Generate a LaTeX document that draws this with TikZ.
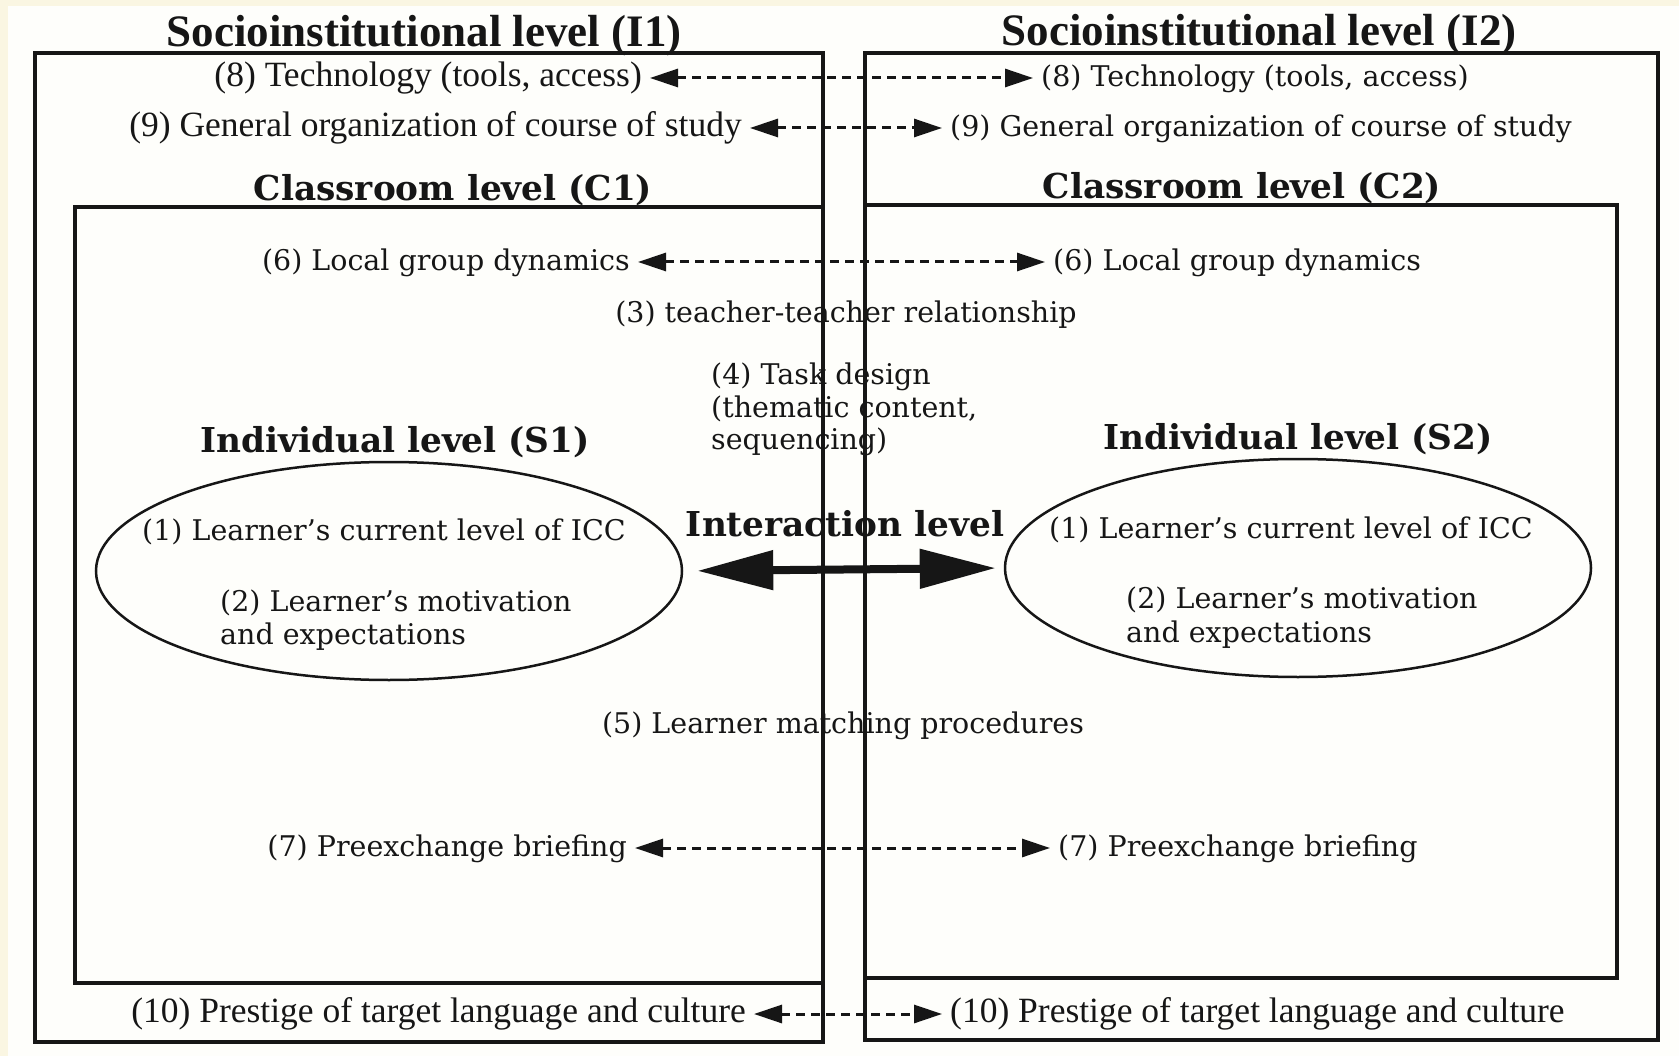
\documentclass[tikz,border=0pt]{standalone}
\usepackage{fontspec}
\setmainfont{DejaVu Serif}
\newfontfamily\timesf{Liberation Serif}
\usetikzlibrary{shapes.geometric,arrows.meta}
\definecolor{ink}{RGB}{22,22,22}
\definecolor{cream}{RGB}{250,246,226}
\definecolor{paper}{RGB}{254,254,251}
\begin{document}
\begin{tikzpicture}[x=1pt,y=-1pt,
  txt/.style={inner sep=0pt, text=ink, font=\fontsize{28.5}{33}\selectfont},
  ttxt/.style={inner sep=0pt, text=ink, font=\timesf\fontsize{35.5}{40}\selectfont},
  soc/.style={inner sep=0pt, text=ink, font=\timesf\bfseries\fontsize{45}{50}\selectfont},
  head/.style={inner sep=0pt, text=ink, font=\bfseries\fontsize{34.3}{38}\selectfont},
  levelbox/.style={draw=ink, line width=3.5pt},
  dasharrow/.style={draw=ink, line width=3pt, dash pattern=on 9pt off 6pt,
    {Triangle[length=28pt,width=18pt]}-{Triangle[length=28pt,width=18pt]},
    shorten <=8pt, shorten >=8pt},
  bigarrow/.style={draw=ink, line width=8pt,
    {Triangle[length=76pt,width=38pt]}-{Triangle[length=76pt,width=38pt]}},
  indiv/.style={draw=ink, line width=2.5pt, ellipse, minimum width=586pt,
    minimum height=218pt, inner sep=0pt}
]
\fill[cream] (0,0) rectangle (1679,1056);
\fill[paper] (8,6) rectangle (1679,1056);
\useasboundingbox (0,0) rectangle (1679,1056);

% headings
\node[soc] (i1) at (424,36) {Socioinstitutional level (I1)};
\node[soc] (i2) at (1259,35) {Socioinstitutional level (I2)};
\node[head] (c1) at (453,190) {Classroom level (C1)};
\node[head] (c2) at (1242,188) {Classroom level (C2)};
\node[head] (s1) at (395,442) {Individual level (S1)};
\node[head] (s2) at (1298,439) {Individual level (S2)};
\node[head] (int) at (845,524) {Interaction level};

% socioinstitutional factors
\node[ttxt, anchor=mid east] (l8) at (642,84) {(8) Technology (tools, access)};
\node[txt, anchor=mid west] (r8) at (1041,84) {(8) Technology (tools, access)};
\draw[dasharrow] ([yshift=6pt]l8.mid east) -- ([yshift=6pt]r8.mid west);
\node[ttxt, anchor=mid east] (l9) at (742,134) {(9) General organization of course of study};
\node[txt, anchor=mid west] (r9) at (950,134) {(9) General organization of course of study};
\draw[dasharrow] ([yshift=6pt]l9.mid east) -- ([yshift=6pt]r9.mid west);
\node[ttxt, anchor=mid east] (l10) at (746,1020) {(10) Prestige of target language and culture};
\node[ttxt, anchor=mid west] (r10) at (950,1020) {(10) Prestige of target language and culture};
\draw[dasharrow] ([yshift=6pt]l10.mid east) -- ([yshift=6pt]r10.mid west);

% classroom factors
\node[txt, anchor=mid east] (l6) at (630,268) {(6) Local group dynamics};
\node[txt, anchor=mid west] (r6) at (1053,268) {(6) Local group dynamics};
\draw[dasharrow] ([yshift=6pt]l6.mid east) -- ([yshift=6pt]r6.mid west);
\node[txt, anchor=mid east] (l7) at (627,854) {(7) Preexchange briefing};
\node[txt, anchor=mid west] (r7) at (1058,854) {(7) Preexchange briefing};
\draw[dasharrow] ([yshift=6pt]l7.mid east) -- ([yshift=6pt]r7.mid west);

\node[txt] (t3) at (846,315) {(3) teacher-teacher relationship};
\node[txt, anchor=mid west] (t4a) at (711,382) {(4) Task design};
\node[txt, anchor=mid west] (t4b) at (711,415) {(thematic content,};
\node[txt, anchor=mid west] (t4c) at (711,447) {sequencing)};
\node[txt] (t5) at (843,726) {(5) Learner matching procedures};

% individual level
\node[indiv] (e1) at (389,571) {};
\node[indiv] (e2) at (1298,568) {};
\node[txt, anchor=mid west] (l1) at (142,538) {(1) Learner’s current level of ICC};
\node[txt, anchor=mid west] (l2a) at (220,609) {(2) Learner’s motivation};
\node[txt, anchor=mid west] (l2b) at (220,642) {and expectations};
\node[txt, anchor=mid west] (r1) at (1049,536) {(1) Learner’s current level of ICC};
\node[txt, anchor=mid west] (r2a) at (1126,606) {(2) Learner’s motivation};
\node[txt, anchor=mid west] (r2b) at (1126,640) {and expectations};
\draw[bigarrow, shorten <=14pt, shorten >=8pt] (e1.east) -- (e2.west);

% level boxes
\draw[levelbox] (35,53) rectangle (823,1042);
\draw[levelbox] (865,53) rectangle (1658,1040);
\draw[levelbox] (75,207) rectangle (823,983);
\draw[levelbox] (865,205) rectangle (1617,978);
\end{tikzpicture}
\end{document}
